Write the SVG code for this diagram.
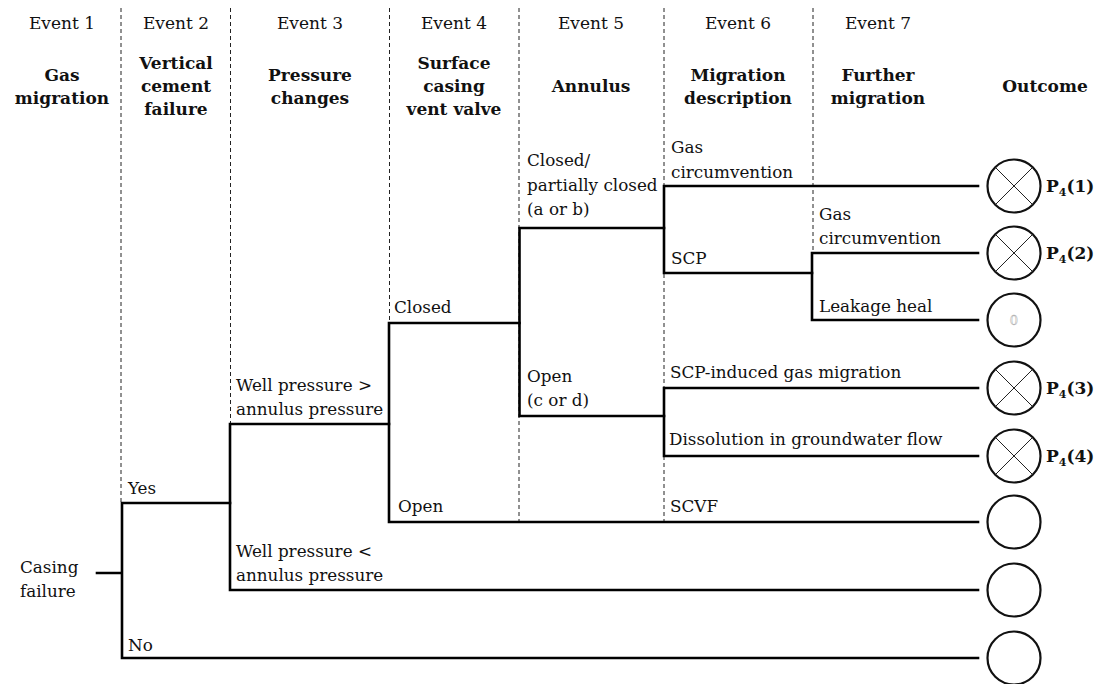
<svg xmlns="http://www.w3.org/2000/svg" width="1102" height="684" viewBox="0 0 1102 684" font-family="'DejaVu Serif', serif">
<defs>
<style type="text/css">
  text { font-family: "DejaVu Serif", serif; fill: #111; }
  .ev { font-size: 17px; text-anchor: middle; }
  .hd { font-size: 17px; font-weight: bold; text-anchor: middle; }
  .lb { font-size: 16.8px; }
  .out { font-size: 17px; font-weight: bold; }
  .sub { font-size: 11px; }
  .div { stroke: #222; stroke-width: 1; stroke-dasharray: 4 3; fill: none; }
  .br { stroke: #000; stroke-width: 2.6; fill: none; stroke-linecap: square; }
  .oc { stroke: #111; stroke-width: 2.2; fill: #fff; }
  .x { stroke: #222; stroke-width: 1; }
</style>
</defs>
<rect width="1102" height="684" fill="#fff"/>

<g id="dividers">
  <line class="div" x1="121" y1="8" x2="121" y2="503"/>
  <line class="div" x1="230.5" y1="8" x2="230.5" y2="424"/>
  <line class="div" x1="389.5" y1="8" x2="389.5" y2="323"/>
  <line class="div" x1="519" y1="8" x2="519" y2="522"/>
  <line class="div" x1="664" y1="8" x2="664" y2="522"/>
  <line class="div" x1="813" y1="8" x2="813" y2="253"/>
</g>

<g id="headers">
  <text class="ev" x="62" y="29">Event 1</text>
  <text class="ev" x="176" y="29">Event 2</text>
  <text class="ev" x="310" y="29">Event 3</text>
  <text class="ev" x="454" y="29">Event 4</text>
  <text class="ev" x="591" y="29">Event 5</text>
  <text class="ev" x="738" y="29">Event 6</text>
  <text class="ev" x="878" y="29">Event 7</text>

  <text class="hd" x="62" y="81">Gas</text>
  <text class="hd" x="62" y="104">migration</text>
  <text class="hd" x="176" y="69">Vertical</text>
  <text class="hd" x="176" y="92">cement</text>
  <text class="hd" x="176" y="115">failure</text>
  <text class="hd" x="310" y="81">Pressure</text>
  <text class="hd" x="310" y="104">changes</text>
  <text class="hd" x="454" y="69">Surface</text>
  <text class="hd" x="454" y="92">casing</text>
  <text class="hd" x="454" y="115">vent valve</text>
  <text class="hd" x="591" y="92">Annulus</text>
  <text class="hd" x="738" y="81">Migration</text>
  <text class="hd" x="738" y="104">description</text>
  <text class="hd" x="878" y="81">Further</text>
  <text class="hd" x="878" y="104">migration</text>
  <text class="hd" x="1045" y="92">Outcome</text>
</g>

<g id="connectors">
  <path class="br" d="M97,573 H122 M122,503 V658 M122,503 H230 M122,658 H978"/>
  <path class="br" d="M230,424 V590 M230,424 H389 M230,590 H978"/>
  <path class="br" d="M389,323 V522 M389,323 H519.5 M389,522 H978"/>
  <path class="br" d="M519.5,228 V416 M519.5,228 H664 M519.5,416 H664"/>
  <path class="br" d="M664,186 V273 M664,186 H978 M664,273 H812"/>
  <path class="br" d="M812,253 V320 M812,253 H978 M812,320 H978"/>
  <path class="br" d="M664,388 V456 M664,388 H978 M664,456 H978"/>
</g>

<g id="labels">
  <g id="n-root"><text class="lb" x="20" y="573">Casing</text><text class="lb" x="20" y="597">failure</text></g>
  <g id="n-yes"><text class="lb" x="128" y="494">Yes</text></g>
  <g id="n-no"><text class="lb" x="128" y="651">No</text></g>
  <g id="n-wp-gt"><text class="lb" x="236" y="391">Well pressure &gt;</text><text class="lb" x="236" y="415">annulus pressure</text></g>
  <g id="n-wp-lt"><text class="lb" x="236" y="557">Well pressure &lt;</text><text class="lb" x="236" y="581">annulus pressure</text></g>
  <g id="n-closed"><text class="lb" x="394" y="313">Closed</text></g>
  <g id="n-open"><text class="lb" x="398" y="512">Open</text></g>
  <g id="n-ann-closed"><text class="lb" x="527" y="166">Closed/</text><text class="lb" x="527" y="191">partially closed</text><text class="lb" x="527" y="215">(a or b)</text></g>
  <g id="n-ann-open"><text class="lb" x="527" y="382">Open</text><text class="lb" x="527" y="406">(c or d)</text></g>
  <g id="n-gc1"><text class="lb" x="671" y="153">Gas</text><text class="lb" x="671" y="178">circumvention</text></g>
  <g id="n-scp"><text class="lb" x="671" y="264">SCP</text></g>
  <g id="n-gc2"><text class="lb" x="819" y="220">Gas</text><text class="lb" x="819" y="244">circumvention</text></g>
  <g id="n-heal"><text class="lb" x="819" y="312">Leakage heal</text></g>
  <g id="n-scpgas"><text class="lb" x="670" y="378">SCP-induced gas migration</text></g>
  <g id="n-diss"><text class="lb" x="669" y="445">Dissolution in groundwater flow</text></g>
  <g id="n-scvf"><text class="lb" x="670" y="512">SCVF</text></g>
</g>

<g id="outcomes">
  <g id="o1"><circle class="oc" cx="1014" cy="186" r="26.5"/><line class="x" x1="995.3" y1="167.3" x2="1032.7" y2="204.7"/><line class="x" x1="995.3" y1="204.7" x2="1032.7" y2="167.3"/>
    <text class="out" x="1046" y="192">P<tspan class="sub" dy="4">4</tspan><tspan dy="-4">(1)</tspan></text></g>
  <g id="o2"><circle class="oc" cx="1014" cy="253" r="26.5"/><line class="x" x1="995.3" y1="234.3" x2="1032.7" y2="271.7"/><line class="x" x1="995.3" y1="271.7" x2="1032.7" y2="234.3"/>
    <text class="out" x="1046" y="259">P<tspan class="sub" dy="4">4</tspan><tspan dy="-4">(2)</tspan></text></g>
  <g id="o3"><circle class="oc" cx="1014" cy="320" r="26.5"/>
    <text x="1014" y="325" font-size="13" text-anchor="middle" style="fill:#fff;stroke:#b5b5b5;stroke-width:0.6">0</text></g>
  <g id="o4"><circle class="oc" cx="1014" cy="388" r="26.5"/><line class="x" x1="995.3" y1="369.3" x2="1032.7" y2="406.7"/><line class="x" x1="995.3" y1="406.7" x2="1032.7" y2="369.3"/>
    <text class="out" x="1046" y="394">P<tspan class="sub" dy="4">4</tspan><tspan dy="-4">(3)</tspan></text></g>
  <g id="o5"><circle class="oc" cx="1014" cy="456" r="26.5"/><line class="x" x1="995.3" y1="437.3" x2="1032.7" y2="474.7"/><line class="x" x1="995.3" y1="474.7" x2="1032.7" y2="437.3"/>
    <text class="out" x="1046" y="462">P<tspan class="sub" dy="4">4</tspan><tspan dy="-4">(4)</tspan></text></g>
  <g id="o6"><circle class="oc" cx="1014" cy="522" r="26.5"/></g>
  <g id="o7"><circle class="oc" cx="1014" cy="590" r="26.5"/></g>
  <g id="o8"><circle class="oc" cx="1014" cy="658" r="26.5"/></g>
</g>
</svg>
